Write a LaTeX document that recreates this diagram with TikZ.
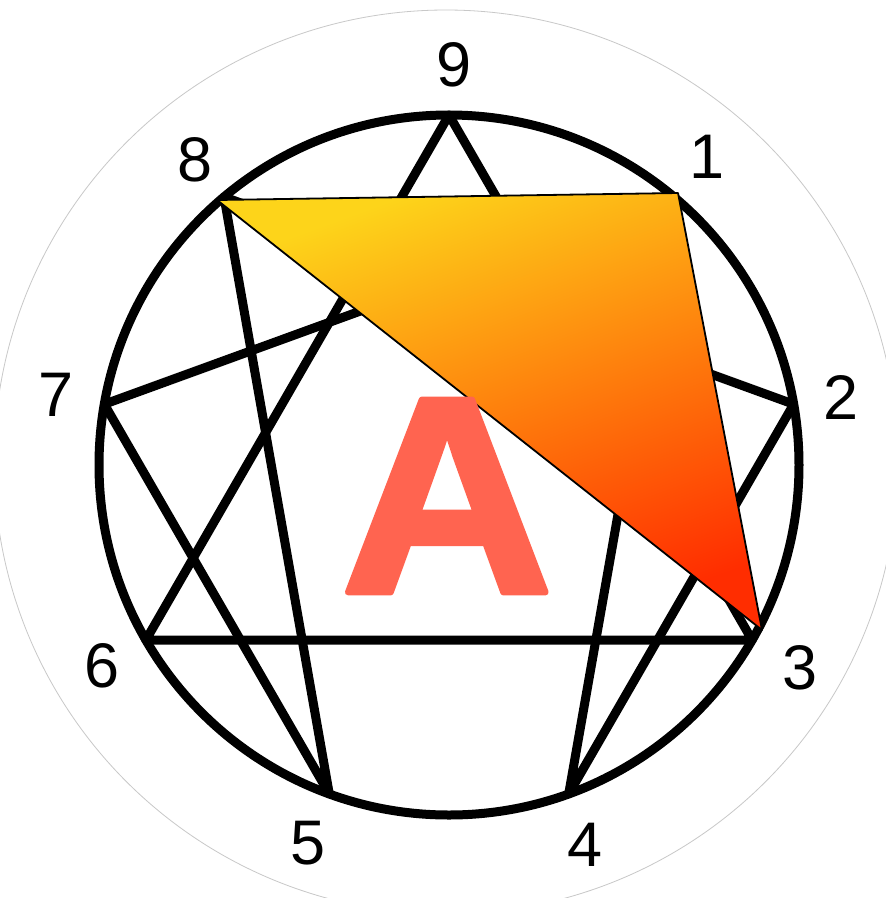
\documentclass[tikz,border=0pt]{standalone}
\usepackage{fontspec}
\setmainfont{Liberation Sans}
\newfontfamily\heavyfont[FakeBold=2.2]{Liberation Sans Bold}
\definecolor{ringgray}{RGB}{200,200,200}
\definecolor{ayellow}{RGB}{253,212,26}
\definecolor{aorange}{RGB}{249,145,16}
\definecolor{ared}{RGB}{255,45,0}
\definecolor{letterred}{RGB}{255,100,80}
\begin{document}
\begin{tikzpicture}[x=1pt,y=-1pt,line join=round,
  enn/.style={line width=9pt,black},
  num/.style={inner sep=0pt,font=\fontsize{63}{63}\selectfont},
  bigletter/.style={inner sep=0pt,text=letterred,font=\fontsize{280}{280}\heavyfont}]
\useasboundingbox (0,0) rectangle (886,898);
\fill[white] (0,0) rectangle (886,898);
% faint outer ring
\draw[ringgray,line width=0.8pt] (446,462) circle (452pt);
% enneagram
\coordinate (c) at (449,465);
\path (c) ++(90:350pt) coordinate (p9);
\path (c) ++(50:350pt) coordinate (p1);
\path (c) ++(10:350pt) coordinate (p2);
\path (c) ++(-30:350pt) coordinate (p3);
\path (c) ++(-70:350pt) coordinate (p4);
\path (c) ++(-110:350pt) coordinate (p5);
\path (c) ++(-150:350pt) coordinate (p6);
\path (c) ++(170:350pt) coordinate (p7);
\path (c) ++(130:350pt) coordinate (p8);
\draw[enn] (c) circle (350pt);
\draw[enn] (p9) -- (p3) -- (p6) -- cycle;
\draw[enn] (p1) -- (p4) -- (p2) -- (p8) -- (p5) -- (p7) -- cycle;
% labels
\node[num] (n9) at (454,65) {9};
\node[num] (n1) at (707,157) {1};
\node[num] (n2) at (841,397) {2};
\node[num] (n3) at (800,668) {3};
\node[num] (n4) at (585,845) {4};
\node[num] (n5) at (308,843) {5};
\node[num] (n6) at (102,666) {6};
\node[num] (n7) at (56,395) {7};
\node[num] (n8) at (195,160) {8};
% gradient triangle
\coordinate (t8) at (217,200);
\coordinate (t1) at (678,193);
\coordinate (t3) at (762,630);
\shade[top color=ayellow,middle color=aorange,bottom color=ared,shading angle=20]
  (t8) -- (t1) -- (t3) -- cycle;
\draw[line width=1.8pt] (t8) -- (t1) -- (t3) -- cycle;
% letter
\node[bigletter,xscale=1.05] (A) at (447,496) {A};
\end{tikzpicture}
\end{document}
